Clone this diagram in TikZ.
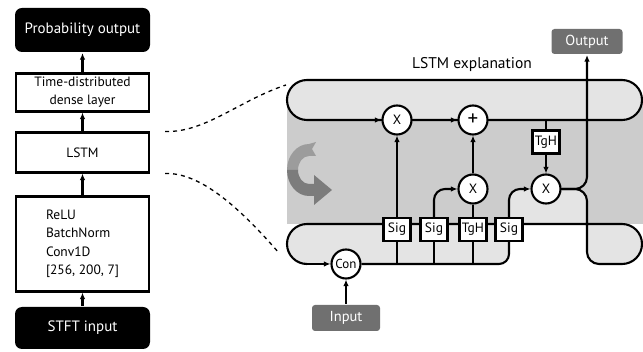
\documentclass[tikz,border=0pt]{standalone}
\usepackage{fontspec}
\setmainfont{PT Sans}
\usetikzlibrary{arrows.meta}
\definecolor{cellgray}{RGB}{204,204,204}
\definecolor{bandgray}{RGB}{228,228,228}
\definecolor{iogray}{RGB}{112,112,112}
\definecolor{iconlight}{RGB}{156,156,156}
\definecolor{icondark}{RGB}{124,124,124}

\begin{document}
\begin{tikzpicture}[x=1pt,y=-1pt,line width=2.1pt,
  >={Latex[length=6.5pt,width=5.5pt]},
  blackbox/.style={fill=black,text=white,rounded corners=7pt,minimum width=135pt,font=\fontsize{15}{17}\selectfont},
  layerbox/.style={draw,fill=white,minimum width=133pt,align=center,font=\fontsize{13.5}{18}\selectfont},
  gatebox/.style={draw,fill=white,minimum width=27pt,minimum height=23pt,inner sep=0pt,font=\fontsize{13.5}{14}\selectfont},
  opnode/.style={draw,circle,fill=white,minimum size=29pt,inner sep=0pt,font=\fontsize{13.5}{14}\selectfont},
  iobox/.style={fill=iogray,text=white,rounded corners=3pt,inner sep=0pt,font=\fontsize{14.5}{16}\selectfont},
  zoomline/.style={line width=1.3pt,dash pattern=on 4pt off 4pt}]
\useasboundingbox (0,0) rectangle (643,352);

% Left column: the network
\node[blackbox,minimum height=44pt] (prob) at (82.5,30) {Probability output};
\node[layerbox,minimum height=38pt] (dense) at (82.5,92.5) {Time-distributed\\dense layer};
\node[layerbox,minimum height=40pt] (lstm) at (82.5,152.5) {LSTM};
\node[layerbox,minimum height=95pt,align=left,font=\fontsize{13.5}{18.5}\selectfont] (conv) at (82.5,244) {ReLU\\BatchNorm\\Conv1D\\{[256, 200, 7]}};
\node[blackbox,minimum height=42pt] (stft) at (82.5,328) {STFT input};
\draw[->] (stft) -- (conv);
\draw[->] (conv) -- (lstm);
\draw[->] (lstm) -- (dense);
\draw[->] (dense) -- (prob);

% Dashed zoom lines
\coordinate (zoomtop) at (286,85);
\coordinate (zoombot) at (279,253);
\draw[zoomline] ([xshift=15pt]lstm.north east) .. controls (205,133) and (240,100) .. (zoomtop);
\draw[zoomline] ([xshift=15pt]lstm.south east) .. controls (200,172) and (240,208) .. (zoombot);

% Gray cell area and the two bands
\fill[cellgray] (287,100) rectangle (643,224);
\fill[bandgray] (307,80) -- (622,80) arc[start angle=270,end angle=450,radius=20] -- (307,120) arc[start angle=90,end angle=270,radius=20] -- cycle;
\fill[bandgray] (509,224) -- (307,224) arc[start angle=270,end angle=90,radius=20] -- (499,264) arc[start angle=90,end angle=0,radius=10] -- cycle;
\fill[bandgray] (509,224) -- (509,200) arc[start angle=180,end angle=270,radius=11] -- (576,189) arc[start angle=270,end angle=360,radius=11] -- (587,224) -- cycle;
\fill[bandgray] (587,224) -- (622,224) arc[start angle=270,end angle=450,radius=20] -- (599,264) arc[start angle=90,end angle=180,radius=12] -- cycle;

% Recurrence icon
\fill[iconlight] (316,142) -- (309,144) arc[start angle=270,end angle=180,x radius=22,y radius=26] -- (298,170) arc[start angle=180,end angle=270,x radius=11,y radius=14] -- (316,156) -- (312,149) -- cycle;
\fill[icondark] (287,170) arc[start angle=180,end angle=90,x radius=22,y radius=26] -- (314,196) -- (314,205) -- (332,190) -- (314,175) -- (314,184) -- (309,184) arc[start angle=90,end angle=180,x radius=11,y radius=14] -- cycle;

% Band outlines (cell state and hidden state)
\coordinate (cellin) at (307,120);
\coordinate (hin) at (307,264);
\draw (cellin) arc[start angle=90,end angle=270,radius=20] -- (622,80) arc[start angle=270,end angle=450,radius=20] -- (cellin);
\draw (546,189) -- (575,189) arc[start angle=270,end angle=360,radius=12] -- (587,252) arc[start angle=180,end angle=90,radius=12] -- (622,264) arc[start angle=90,end angle=-90,radius=20] -- (307,224) arc[start angle=270,end angle=90,radius=20];

\node[anchor=center,font=\fontsize{15.5}{17}\selectfont] (title) at (472,65) {LSTM explanation};

% Operations and gates
\node[opnode] (x1) at (397,120) {X};
\node[opnode,font=\fontsize{21}{21}\selectfont] (plus) at (473,120) {+};
\node[opnode] (x2) at (473,189) {X};
\node[opnode] (x3) at (546,189) {X};
\node[opnode,font=\fontsize{13}{13}\selectfont] (con) at (346,264) {Con};
\node[gatebox] (sig1) at (397,229.5) {Sig};
\node[gatebox] (sig2) at (434,229.5) {Sig};
\node[gatebox] (tgh1) at (473,229.5) {TgH};
\node[gatebox] (sig3) at (509,229.5) {Sig};
\node[gatebox] (tgh2) at (546,142) {TgH};
\node[iobox,minimum width=71pt,minimum height=25pt] (output) at (587,41.5) {Output};
\node[iobox,minimum width=68pt,minimum height=26pt] (input) at (346,318) {Input};

% Connectors
\draw[->] (input) -- (con);
\draw[->] (hin) -- (con);
\draw[->] (cellin) -- (x1);
\draw[->] (x1) -- (plus);
\draw[->] (sig1) -- (x1);
\draw[->] (x2) -- (plus);
\draw (tgh1) -- (x2);
\draw (tgh2.north) -- (tgh2.north |- plus);
\draw[->] (tgh2) -- (x3);
\draw[->,rounded corners=11pt] (sig2.north) |- (x2.west);
\draw[->,rounded corners=11pt] (sig3.north) |- (x3.west);
\draw[->,rounded corners=12pt] (x3.east) -| (output.south);
\draw[rounded corners=10pt] (con.east) -| (sig3.south);
\draw (sig1.south) -- (sig1.south |- con);
\draw (sig2.south) -- (sig2.south |- con);
\draw (tgh1.south) -- (tgh1.south |- con);
\end{tikzpicture}
\end{document}
